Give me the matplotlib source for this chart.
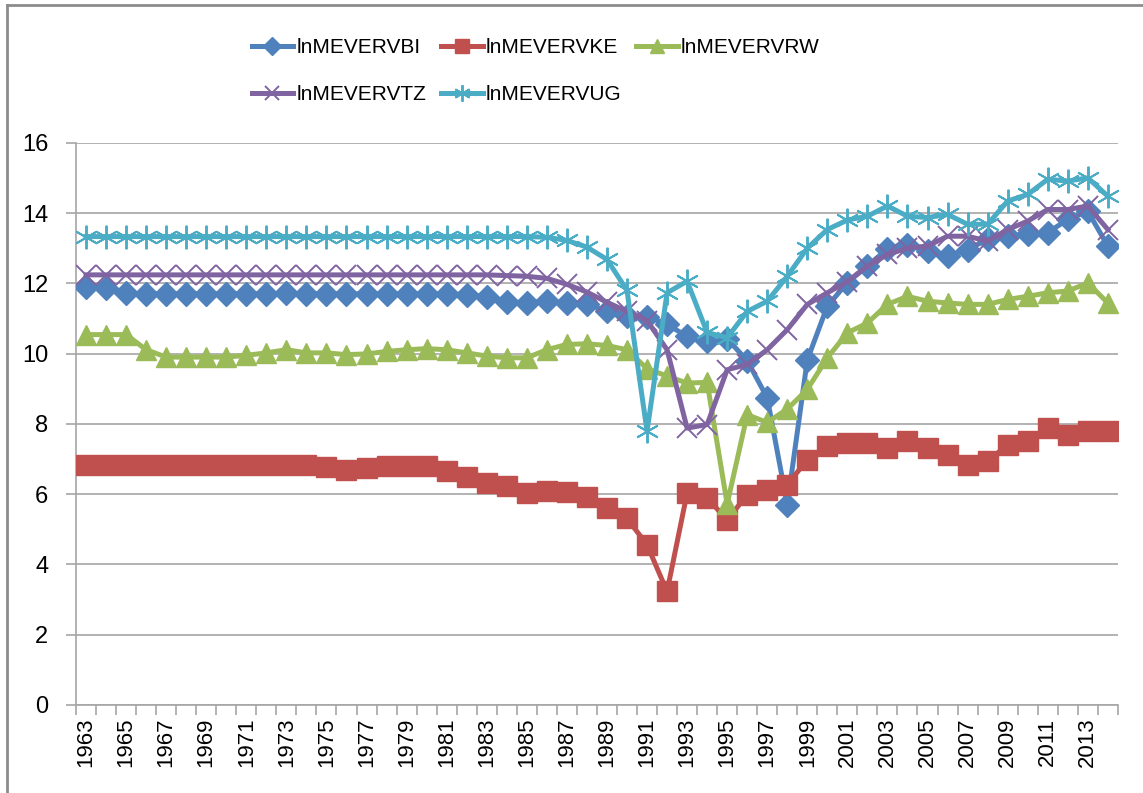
import matplotlib
matplotlib.use("Agg")
import matplotlib.pyplot as plt
from matplotlib.lines import Line2D

years = list(range(1963, 2015))

bi = [11.90, 11.88, 11.71, 11.70, 11.70, 11.70, 11.70, 11.70, 11.70, 11.70,
      11.71, 11.70, 11.70, 11.70, 11.70, 11.70, 11.70, 11.70, 11.70, 11.68,
      11.62, 11.48, 11.44, 11.49, 11.44, 11.40, 11.22, 11.08, 11.05, 10.83,
      10.49, 10.36, 10.42, 9.80, 8.74, 5.70, 9.82, 11.35, 12.02, 12.49,
      12.98, 13.08, 12.93, 12.78, 12.96, 13.25, 13.34, 13.39, 13.44, 13.82,
      14.05, 13.06]

ke = [6.82, 6.82, 6.82, 6.82, 6.82, 6.82, 6.82, 6.82, 6.82, 6.82,
      6.82, 6.82, 6.78, 6.70, 6.75, 6.80, 6.80, 6.80, 6.65, 6.50,
      6.31, 6.22, 6.03, 6.08, 6.05, 5.93, 5.60, 5.31, 4.56, 3.23,
      6.03, 5.89, 5.27, 5.98, 6.13, 6.27, 6.98, 7.36, 7.45, 7.45,
      7.31, 7.50, 7.31, 7.12, 6.84, 6.93, 7.41, 7.50, 7.88, 7.69,
      7.79, 7.80]

rw = [10.54, 10.54, 10.54, 10.11, 9.90, 9.90, 9.90, 9.90, 9.95, 10.02,
      10.11, 10.02, 10.02, 9.97, 9.99, 10.06, 10.11, 10.14, 10.11, 10.02,
      9.93, 9.88, 9.88, 10.11, 10.26, 10.28, 10.23, 10.11, 9.57, 9.36,
      9.16, 9.18, 5.72, 8.26, 8.04, 8.42, 8.98, 9.88, 10.59, 10.87,
      11.40, 11.63, 11.49, 11.44, 11.40, 11.40, 11.54, 11.63, 11.73, 11.78,
      12.01, 11.44]

tz = [12.24, 12.24, 12.24, 12.24, 12.24, 12.24, 12.24, 12.24, 12.24, 12.24,
      12.24, 12.24, 12.24, 12.24, 12.24, 12.24, 12.24, 12.24, 12.24, 12.24,
      12.24, 12.22, 12.20, 12.14, 11.97, 11.75, 11.46, 11.20, 10.94, 10.11,
      7.88, 7.98, 9.54, 9.69, 10.11, 10.68, 11.40, 11.73, 12.05, 12.49,
      12.82, 13.00, 13.06, 13.34, 13.34, 13.20, 13.53, 13.77, 14.10, 14.10,
      14.20, 13.53]

ug = [13.33, 13.33, 13.33, 13.33, 13.33, 13.33, 13.33, 13.33, 13.33, 13.33,
      13.33, 13.33, 13.33, 13.33, 13.33, 13.33, 13.33, 13.33, 13.33, 13.33,
      13.33, 13.33, 13.33, 13.31, 13.22, 13.03, 12.68, 11.80, 7.79, 11.73,
      12.06, 10.60, 10.45, 11.20, 11.49, 12.20, 13.00, 13.53, 13.80, 13.91,
      14.20, 13.91, 13.87, 13.96, 13.68, 13.68, 14.34, 14.53, 14.96, 14.91,
      15.00, 14.48]

names = ["lnMEVERVBI", "lnMEVERVKE", "lnMEVERVRW", "lnMEVERVTZ", "lnMEVERVUG"]

plt.rcParams['font.family'] = ['Liberation Sans', 'DejaVu Sans']

fig = plt.figure(figsize=(11.43, 7.93), dpi=100)
ax = fig.add_axes([0.0665, 0.111, 0.9115, 0.709])

x = list(range(len(years)))
lw = 3.6
styles = [
    dict(color='#4F81BD', marker='D', ms=12.5),
    dict(color='#C0504D', marker='s', ms=14),
    dict(color='#9BBB59', marker='^', ms=15),
    dict(color='#8064A2', marker='x', ms=14, mew=1.4),
    dict(color='#4BACC6', marker=(6, 2, 0), ms=17, mew=1.4),
]
series = [bi, ke, rw, tz, ug]

handles = []
for vals, st in zip(series, styles):
    h, = ax.plot(x, vals, lw=lw, zorder=3, **st)
    handles.append(h)

ax.set_xlim(-0.5, len(years) - 0.5)
ax.set_ylim(0, 16)
ax.set_yticks(range(0, 17, 2))
ax.yaxis.grid(True, color='#A6A6A6', lw=1.2)
ax.set_axisbelow(True)

for s in ['top', 'right']:
    ax.spines[s].set_visible(False)
for s in ['left', 'bottom']:
    ax.spines[s].set_color('#A6A6A6')
    ax.spines[s].set_linewidth(1.2)

# category ticks between years, labels on every other year
ax.set_xticks([i - 0.5 for i in range(len(years) + 1)])
ax.set_xticklabels([])
ax.set_xticks(x[::2], minor=True)
ax.set_xticklabels([str(y) for y in years[::2]], minor=True, rotation=90, fontsize=16)
ax.tick_params(axis='x', which='major', length=7, color='#A6A6A6', width=1.2)
ax.tick_params(axis='x', which='minor', length=0, pad=9)
ax.tick_params(axis='y', length=7, color='#A6A6A6', width=1.2, labelsize=17, pad=13)

# legend filled row by row: BI KE RW / TZ UG
order = [0, 3, 1, 4, 2]
fig.legend([handles[i] for i in order], [names[i] for i in order],
           loc='upper left', bbox_to_anchor=(0.211, 0.965), ncol=3,
           frameon=False, borderpad=0, handlelength=2.0, handletextpad=0.15,
           columnspacing=0.7, labelspacing=1.35, markerscale=0.7,
           prop={'family': ['Liberation Sans Narrow', 'Liberation Sans'], 'size': 15})

# outer chart frame (top and left edges)
fig.add_artist(Line2D([7 / 1143, 7 / 1143], [0, 1 - 5 / 793], transform=fig.transFigure,
                      color='#8C8C8C', lw=2))
fig.add_artist(Line2D([7 / 1143, 1], [1 - 5 / 793, 1 - 5 / 793], transform=fig.transFigure,
                      color='#8C8C8C', lw=2))

fig.savefig('out.png', dpi=100)
